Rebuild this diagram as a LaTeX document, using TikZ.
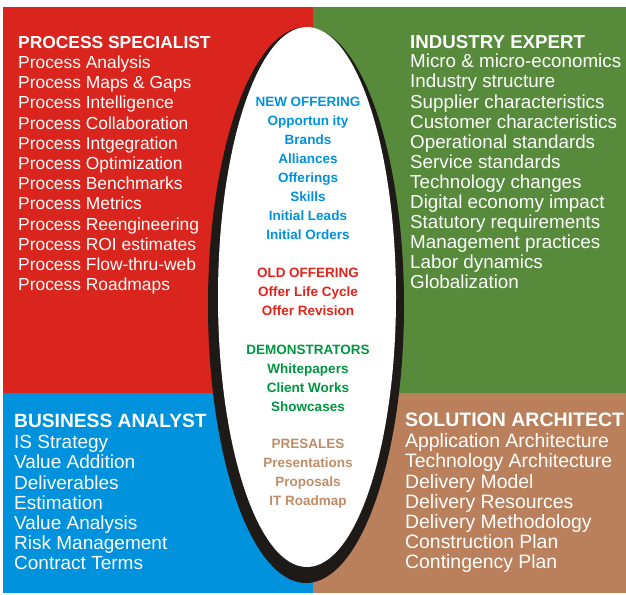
\documentclass[tikz,border=0pt]{standalone}
\usepackage{fontspec}
\setmainfont{Liberation Sans}
\definecolor{qred}{RGB}{217,37,29}
\definecolor{qgreen}{RGB}{87,139,59}
\definecolor{qblue}{RGB}{0,146,221}
\definecolor{qbrown}{RGB}{185,128,91}
\definecolor{tblue}{RGB}{0,146,221}
\definecolor{tred}{RGB}{226,35,26}
\definecolor{tgreen}{RGB}{0,150,64}
\definecolor{tbrown}{RGB}{192,140,104}
\definecolor{shadow}{RGB}{30,26,24}
\tikzset{
  item/.style={anchor=base west, inner sep=0pt, text=white, font=\fontsize{17.4}{20}\selectfont},
  head/.style={item, font=\fontsize{17.4}{20}\selectfont\bfseries},
  sz/.style={font=\fontsize{#1}{20}\selectfont},
  bsz/.style={font=\fontsize{#1}{20}\selectfont\bfseries},
  ctr/.style={anchor=base, inner sep=0pt, font=\fontsize{13.5}{16}\selectfont\bfseries},
}
\begin{document}
\begin{tikzpicture}[x=1pt,y=-1pt]
\useasboundingbox (0,0) rectangle (626,594);
% quadrants
\fill[qred] (3,7) rectangle (313,393);
\fill[qgreen] (313,7) rectangle (626,393);
\fill[qblue] (3,393) rectangle (313,593);
\fill[qbrown] (313,393) rectangle (626,593);
% ellipse with shadow border
\fill[shadow] (306,305) ellipse [x radius=98, y radius=278];
\fill[white] (307,297) ellipse [x radius=89, y radius=270];
% top-left
\node[head] (ps0) at (18,48.5) {PROCESS SPECIALIST};
\foreach \t [count=\i from 0] in {Process Analysis, Process Maps \& Gaps, Process Intelligence, Process Collaboration, Process Intgegration, Process Optimization, Process Benchmarks, Process Metrics, Process Reengineering, Process ROI estimates, Process Flow-thru-web, Process Roadmaps}
  \node[item] (ps\i x) at (18,68.5+20.2*\i) {\t};
% top-right
\node[head, bsz=18.7] (ie0) at (410,48.8) {INDUSTRY EXPERT};
\foreach \t [count=\i from 0] in {Micro \& micro-economics, Industry structure, Supplier characteristics, Customer characteristics, Operational standards, Service standards, Technology changes, Digital economy impact, Statutory requirements, Management practices, Labor dynamics, Globalization}
  \node[item, sz=18.8] (ie\i x) at (410,67.8+20.1*\i) {\t};
% bottom-left
\node[head, bsz=19.2] (ba0) at (14,427.8) {BUSINESS ANALYST};
\foreach \t [count=\i from 0] in {IS Strategy, Value Addition, Deliverables, Estimation, Value Analysis, Risk Management, Contract Terms}
  \node[item, sz=19] (ba\i x) at (14,448.8+20.15*\i) {\t};
% bottom-right
\node[head, bsz=19.5] (sa0) at (405,426.8) {SOLUTION ARCHITECT};
\foreach \t [count=\i from 0] in {Application Architecture, Technology Architecture, Delivery Model, Delivery Resources, Delivery Methodology, Construction Plan, Contingency Plan}
  \node[item, sz=19.4] (sa\i x) at (405,447.8+20.15*\i) {\t};
% centre texts
\foreach \t [count=\i from 0] in {NEW OFFERING, Opportun ity, Brands, Alliances, Offerings, Skills, Initial Leads, Initial Orders}
  \node[ctr, text=tblue] (no\i) at (308,106+19.05*\i) {\t};
\foreach \t [count=\i from 0] in {OLD OFFERING, Offer Life Cycle, Offer Revision}
  \node[ctr, text=tred] (oo\i) at (308,277.5+19.05*\i) {\t};
\foreach \t [count=\i from 0] in {DEMONSTRATORS, Whitepapers, Client Works, Showcases}
  \node[ctr, text=tgreen] (de\i) at (308,354+19.05*\i) {\t};
\foreach \t [count=\i from 0] in {PRESALES, Presentations, Proposals, IT Roadmap}
  \node[ctr, text=tbrown] (pr\i) at (308,448.5+19.05*\i) {\t};
\end{tikzpicture}
\end{document}
